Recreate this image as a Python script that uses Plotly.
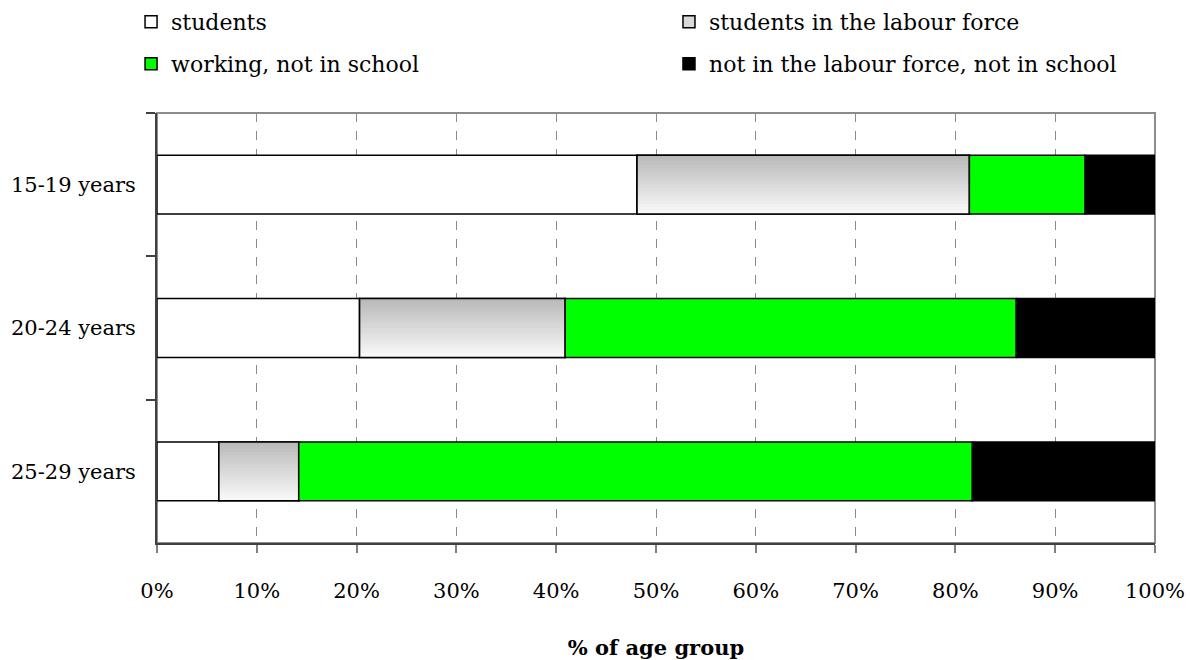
import plotly.graph_objects as go

# Share of each age group by activity status (%)
age_groups = ["15-19 years", "20-24 years", "25-29 years"]
students = [48.1, 20.3, 6.2]
students_labour = [33.3, 20.6, 8.0]
working = [11.6, 45.2, 67.5]
not_labour = [7.0, 13.9, 18.3]
x_ticks = [0, 10, 20, 30, 40, 50, 60, 70, 80, 90, 100]
x_tick_labels = [f"{v}%" for v in x_ticks]

FONT = "DejaVu Serif"
FONT_SIZE = 21
LEGEND_SIZE = 22
BAR_W = 0.41
OUTLINE = dict(color="black", width=1.5)

base_slf = students
base_work = [a + b for a, b in zip(students, students_labour)]
base_nilf = [a + b for a, b in zip(base_work, working)]

fig = go.Figure()

def bar(name, values, base, color, legend, show=True, line=OUTLINE):
    fig.add_trace(go.Bar(
        name=name, y=age_groups, x=values, base=base, orientation="h",
        width=BAR_W, marker=dict(color=color, line=line),
        legend=legend, showlegend=show, hoverinfo="skip"))

bar("students", students, [0, 0, 0], "white", "legend")
bar("students in the labour force", students_labour, base_slf, "#d9d9d9", "legend2")

# vertical grey-to-white gradient on the "students in the labour force" segment
n_slices = 18
step = BAR_W / n_slices
for k in range(n_slices):
    t = k / (n_slices - 1)
    g = int(round(186 + (248 - 186) * t))
    w = step * 1.5 if k < n_slices - 1 else step
    fig.add_trace(go.Bar(
        y=age_groups, x=students_labour, base=base_slf, orientation="h",
        width=w, offset=-BAR_W / 2 + k * step,
        marker=dict(color=f"rgb({g},{g},{g})", line=dict(width=0)),
        showlegend=False, hoverinfo="skip"))
bar("", students_labour, base_slf, "rgba(0,0,0,0)", "legend2", show=False)

bar("working, not in school", working, base_work, "#00ff00", "legend3")
bar("not in the labour force, not in school", not_labour, base_nilf, "black", "legend4")

def legend_at(x, y_px):
    return dict(
        orientation="h", xref="paper", yref="container", xanchor="left",
        yanchor="middle", x=x, y=1 - y_px / 660,
        font=dict(family=FONT, size=LEGEND_SIZE, color="black"),
        bgcolor="rgba(0,0,0,0)", itemclick=False, itemdoubleclick=False,
    )

fig.update_layout(
    width=1190, height=660,
    margin=dict(l=157, r=35, t=113, b=117),
    paper_bgcolor="white", plot_bgcolor="white",
    barmode="overlay",
    font=dict(family=FONT, size=FONT_SIZE, color="black"),
    legend=legend_at(-0.026, 22),
    legend2=legend_at(0.513, 22),
    legend3=legend_at(-0.026, 64),
    legend4=legend_at(0.513, 64),
    xaxis=dict(
        range=[0, 100], tickmode="array", tickvals=x_ticks, ticktext=x_tick_labels,
        showgrid=True, gridcolor="#8a8a8a", griddash="dash", gridwidth=1,
        ticks="outside", ticklen=8, tickcolor="#808080", tickwidth=1.5,
        showline=True, linecolor="#404040", linewidth=2,
        ticklabelstandoff=20, zeroline=False, automargin=False,
        title=dict(text="<b>% of age group</b>", standoff=42,
                   font=dict(family=FONT, size=FONT_SIZE)),
    ),
    yaxis=dict(
        range=[2.5, -0.5], tickson="boundaries",
        ticks="outside", ticklen=9, tickcolor="#404040", tickwidth=1.5,
        showline=True, linecolor="#404040", linewidth=2,
        showgrid=False, ticklabelstandoff=15, automargin=False,
    ),
    shapes=[dict(type="rect", xref="paper", yref="paper", x0=0, x1=1, y0=0, y1=1,
                 line=dict(color="#8c8c8c", width=2), layer="below")],
)

fig.write_html("out.html")
